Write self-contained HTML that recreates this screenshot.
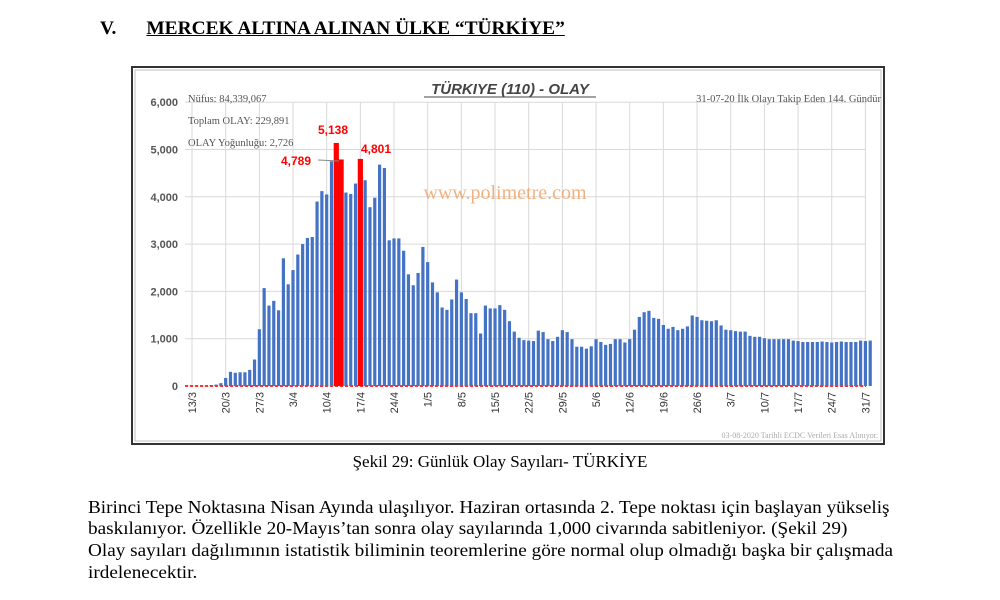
<!DOCTYPE html>
<html><head><meta charset="utf-8"><style>
body{margin:0;width:1000px;height:600px;background:#fff;position:relative;overflow:hidden;font-family:"Liberation Serif",serif;color:#000}
.h{position:absolute;left:100px;top:18px;font-size:19.4px;font-weight:bold}
.h u{margin-left:30px}
.cap{position:absolute;left:0;width:1000px;top:452px;text-align:center;font-size:17px}
.p{position:absolute;left:88px;font-size:17.5px;white-space:nowrap;transform:scaleX(1.097);transform-origin:0 0}
</style></head><body>
<div class="h">V.<u>MERCEK ALTINA ALINAN ÜLKE “TÜRKİYE”</u></div>
<svg id="c" width="1000" height="600" style="position:absolute;left:0;top:0"></svg>
<div class="cap">Şekil 29: Günlük Olay Sayıları- TÜRKİYE</div>
<div class="p" style="top:497px">Birinci Tepe Noktasına Nisan Ayında ulaşılıyor. Haziran ortasında 2. Tepe noktası için başlayan yükseliş</div>
<div class="p" style="top:518px">baskılanıyor. Özellikle 20-Mayıs’tan sonra olay sayılarında 1,000 civarında sabitleniyor. (Şekil 29)</div>
<div class="p" style="top:540px">Olay sayıları dağılımının istatistik biliminin teoremlerine göre normal olup olmadığı başka bir çalışmada</div>
<div class="p" style="top:562px">irdelenecektir.</div>
<script>
var d=[0,0,0,10,20,30,60,170,300,280,290,290,340,560,1200,2070,1700,1800,1600,2700,2150,2450,2780,3000,3130,3150,3900,4120,4050,4750,5138,4789,4090,4060,4280,4801,4350,3780,3980,4680,4610,3080,3120,3120,2860,2360,2130,2390,2940,2620,2190,1980,1660,1610,1830,2250,1980,1840,1540,1540,1110,1700,1640,1640,1710,1610,1370,1150,1020,970,
960,950,1170,1140,990,950,1040,1180,1140,990,830,830,790,840,990,930,870,890,990,990,920,990,1190,1460,1560,1590,1440,1420,1290,1210,1250,1180,1210,1260,1490,1460,1390,1380,1370,1390,1280,1190,1180,1160,1150,1150,1060,1040,1040,1010,990,990,990,990,990,960,950,930,930,930,930,940,930,920,930,940,930,930,930,960,950,960];
while(d.length<141)d.push(950);
var s='',x0=192,dx=4.81,y0=386,k=0.0473;
s+='<rect x="132" y="67" width="752" height="377" fill="#fff" stroke="#333" stroke-width="2"/><rect x="135" y="70" width="746" height="371" fill="none" stroke="#999" stroke-width="0.6"/>';
for(var i=0;i<=6;i++){var y=y0-i*1000*k;s+='<line x1="185" x2="866" y1="'+y+'" y2="'+y+'" stroke="#d9d9d9"/>';s+='<text x="178" y="'+(y+4)+'" text-anchor="end" font-family="Liberation Sans" font-weight="bold" font-size="11" fill="#555">'+(i?i+',000':'0')+'</text>';}
var L=['13/3','20/3','27/3','3/4','10/4','17/4','24/4','1/5','8/5','15/5','22/5','29/5','5/6','12/6','19/6','26/6','3/7','10/7','17/7','24/7','31/7'];
for(var j=0;j<L.length;j++){var x=x0+j*7*dx;s+='<line x1="'+x+'" x2="'+x+'" y1="102" y2="386" stroke="#d9d9d9"/>';s+='<text transform="translate('+(x+4)+',392) rotate(-90)" text-anchor="end" font-family="Liberation Sans" font-size="11" fill="#333">'+L[j]+'</text>';}
s+='<line x1="185" x2="866" y1="386" y2="386" stroke="#f33" stroke-width="2" stroke-dasharray="3,2"/>';
for(var i=0;i<d.length;i++){var x=x0+i*dx,h=d[i]*k,r=(i==30||i==31||i==35);if(h<0.5)continue;s+='<rect x="'+(x-(r?2.6:1.6))+'" y="'+(y0-h)+'" width="'+(r?5.2:3.2)+'" height="'+h+'" fill="'+(r?'#f00':'#4472c4')+'"/>';}
s+='<text x="510" y="94" text-anchor="middle" font-family="Liberation Sans" font-style="italic" font-weight="bold" font-size="15" fill="#444">TÜRKIYE (110) - OLAY</text>';
s+='<line x1="424" x2="596" y1="97" y2="97" stroke="#444"/>';
s+='<text x="881" y="102" text-anchor="end" font-size="10.5" fill="#555">31-07-20 İlk Olayı Takip Eden 144. Gündür</text>';
s+='<text x="188" y="102" font-size="10.5" fill="#555">Nüfus: 84,339,067</text><text x="188" y="124" font-size="10.5" fill="#555">Toplam OLAY: 229,891</text><text x="188" y="146" font-size="10.5" fill="#555">OLAY Yoğunluğu: 2,726</text>';
s+='<g font-family="Liberation Sans" font-weight="bold" font-size="12" fill="#f00"><text x="318" y="134">5,138</text><text x="361" y="153">4,801</text><text x="281" y="165">4,789</text></g>';
s+='<line x1="318" x2="339" y1="160" y2="161" stroke="#888"/>';
s+='<text x="505" y="199" text-anchor="middle" font-size="20" fill="#f0a060" opacity="0.8">www.polimetre.com</text>';
s+='<text x="878" y="438" text-anchor="end" font-size="8" fill="#aaa">03-08-2020 Tarihli ECDC Verileri Esas Alınıyor.</text>';
document.getElementById('c').innerHTML=s;
</script>
</body></html>
